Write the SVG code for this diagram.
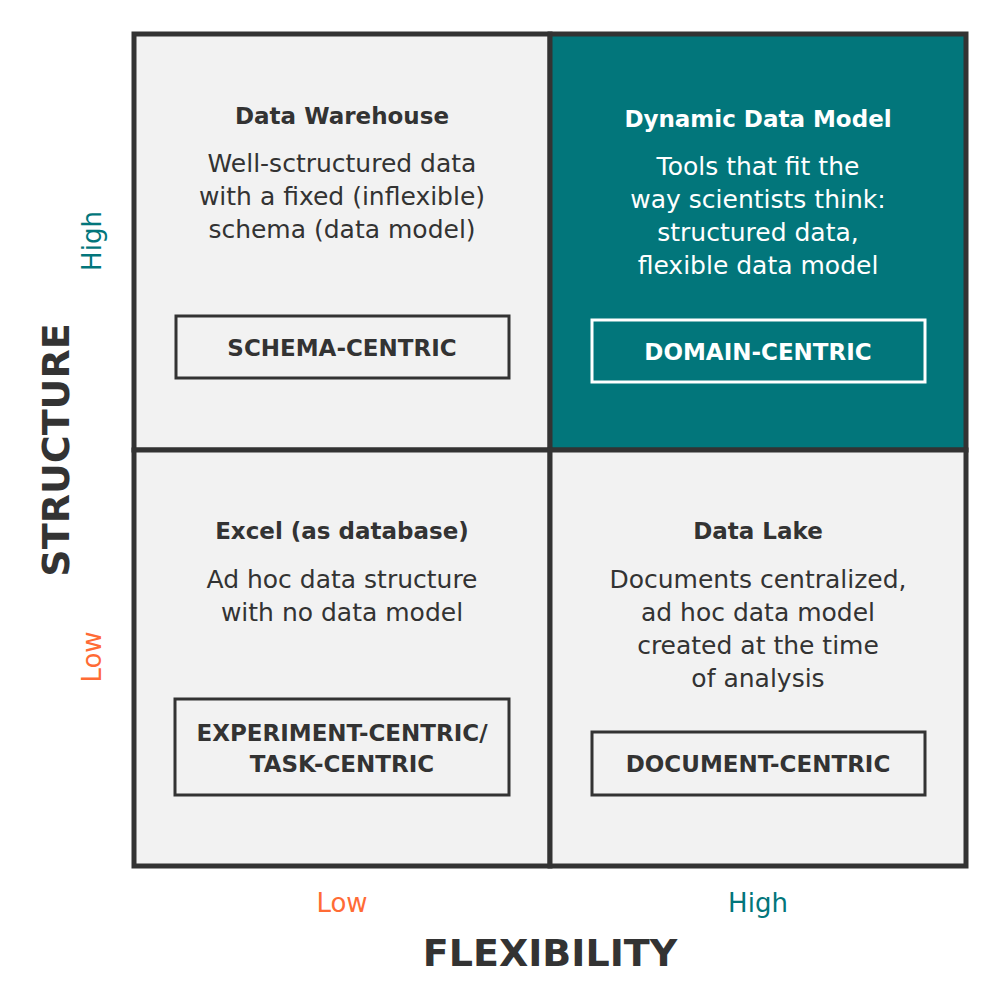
<svg xmlns="http://www.w3.org/2000/svg" width="1001" height="1001" viewBox="0 0 1001 1001">
<style>
text{font-family:"DejaVu Sans","Open Sans","Liberation Sans",sans-serif;text-anchor:middle;fill:#333}
.t{font-weight:700;font-size:23px}
.b{font-size:25px}
.k{font-weight:700;font-size:23px}
.w{fill:#fff}
.cell{fill:#f2f2f2;stroke:#333;stroke-width:5}
.tag{fill:none;stroke:#333;stroke-width:3}
.ax{font-weight:700;font-size:38px}
.lo{fill:#ff6b35;font-size:26px}
.hi{fill:#02767b;font-size:26px}
</style>
<rect width="1001" height="1001" fill="#fff"/>
<g id="cell-dw">
<rect class="cell" x="134" y="34" width="416" height="416"/>
<text class="t" x="342" y="124">Data Warehouse</text>
<text class="b" x="342" y="172">Well-sctructured data</text>
<text class="b" x="342" y="205">with a fixed (inflexible)</text>
<text class="b" x="342" y="238">schema (data model)</text>
<rect class="tag" x="176" y="316" width="333" height="62"/>
<text class="k" x="342" y="356">SCHEMA-CENTRIC</text>
</g>
<g id="cell-ddm">
<rect class="cell" x="550" y="34" width="416" height="416" style="fill:#02767b"/>
<text class="t w" x="758" y="127">Dynamic Data Model</text>
<text class="b w" x="758" y="175">Tools that fit the</text>
<text class="b w" x="758" y="208">way scientists think:</text>
<text class="b w" x="758" y="241">structured data,</text>
<text class="b w" x="758" y="274">flexible data model</text>
<rect class="tag" x="592" y="320" width="333" height="62" style="stroke:#fff"/>
<text class="k w" x="758" y="360">DOMAIN-CENTRIC</text>
</g>
<g id="cell-excel">
<rect class="cell" x="134" y="450" width="416" height="416"/>
<text class="t" x="342" y="539">Excel (as database)</text>
<text class="b" x="342" y="588">Ad hoc data structure</text>
<text class="b" x="342" y="621">with no data model</text>
<rect class="tag" x="175" y="699" width="334" height="96"/>
<text class="k" x="342" y="741">EXPERIMENT-CENTRIC/</text>
<text class="k" x="342" y="772">TASK-CENTRIC</text>
</g>
<g id="cell-lake">
<rect class="cell" x="550" y="450" width="416" height="416"/>
<text class="t" x="758" y="539">Data Lake</text>
<text class="b" x="758" y="588">Documents centralized,</text>
<text class="b" x="758" y="621">ad hoc data model</text>
<text class="b" x="758" y="654">created at the time</text>
<text class="b" x="758" y="687">of analysis</text>
<rect class="tag" x="592" y="732" width="333" height="63"/>
<text class="k" x="758" y="772">DOCUMENT-CENTRIC</text>
</g>
<g id="axis-x">
<text class="lo" x="342" y="912">Low</text>
<text class="hi" x="758" y="912">High</text>
<text class="ax" x="550" y="966">FLEXIBILITY</text>
</g>
<g id="axis-y">
<text class="hi" transform="translate(101,241) rotate(-90)">High</text>
<text class="lo" transform="translate(101,657) rotate(-90)">Low</text>
<text class="ax" transform="translate(69,450) rotate(-90)">STRUCTURE</text>
</g>
<g id="connectors"></g>
</svg>
